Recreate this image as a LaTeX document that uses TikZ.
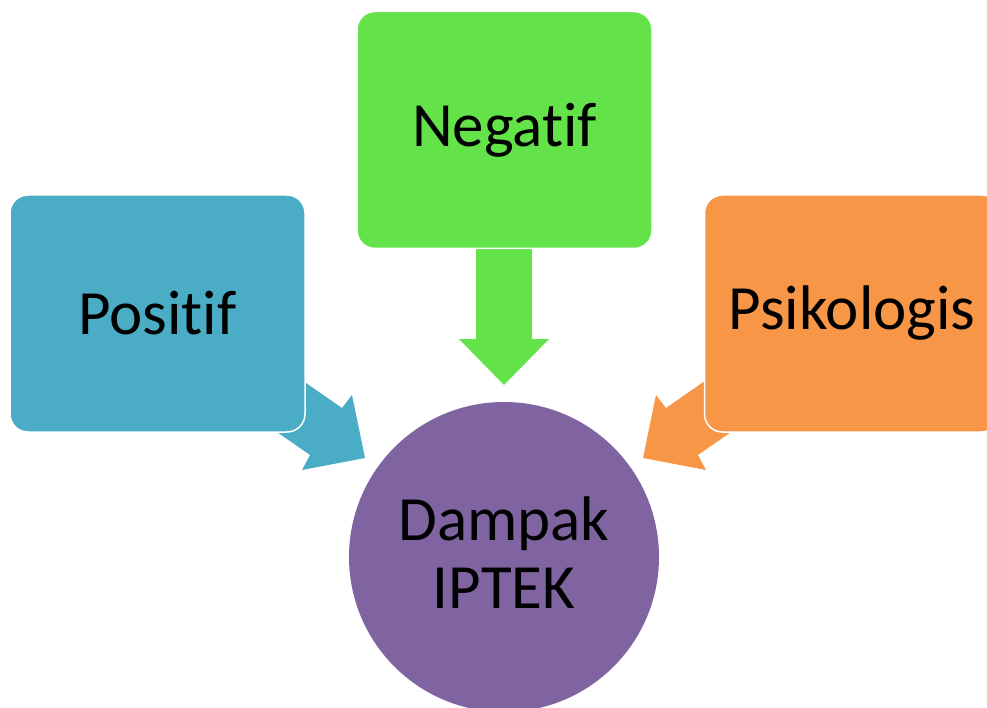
\documentclass[tikz,border=0pt]{standalone}
\usepackage{fontspec}
\setmainfont[RawFeature={-liga;-clig;-dlig}]{Carlito}
\usepackage{tikz}
\usetikzlibrary{shapes}

\definecolor{biru}{HTML}{4BACC6}
\definecolor{hijau}{HTML}{63E24A}
\definecolor{oranye}{HTML}{F79646}
\definecolor{ungu}{HTML}{8064A2}

\tikzset{
  kotak/.style={rectangle,rounded corners=18pt,draw=white,line width=1.5pt,
    minimum width=295pt,minimum height=237pt,inner sep=0pt,
    font=\fontsize{63}{68}\selectfont},
  bulat/.style={circle,fill=ungu,minimum size=310pt,inner sep=0pt,align=center,
    font=\fontsize{63}{68}\selectfont}
}

\begin{document}
\begin{tikzpicture}[x=1pt,y=-1pt]
\clip (0,0) rectangle (987,708);
% panah
\fill[biru] (260,351) -- (342,408) -- (352,395) -- (365,458) -- (302,470) -- (310,455) -- (228,398) -- cycle;
\fill[oranye] (748,351) -- (666,408) -- (656,395) -- (643,458) -- (706,470) -- (698,455) -- (780,398) -- cycle;
\fill[hijau] (476,230) -- (532,230) -- (532,339) -- (549,339) -- (504,385) -- (459,339) -- (476,339) -- cycle;
% kotak
\node [kotak,fill=biru] (pos) at (157.5,313.5) {Positif};
\node [kotak,fill=hijau] (neg) at (504.5,130) {Negatif};
\node [kotak,fill=oranye] (psi) at (852,313.5) {Psikologis};
\node [bulat] (iptek) at (504,557) {};
\node [align=center,font=\fontsize{63}{68}\selectfont] (teks) at (504,553) {Dampak\\IPTEK};
\end{tikzpicture}
\end{document}
